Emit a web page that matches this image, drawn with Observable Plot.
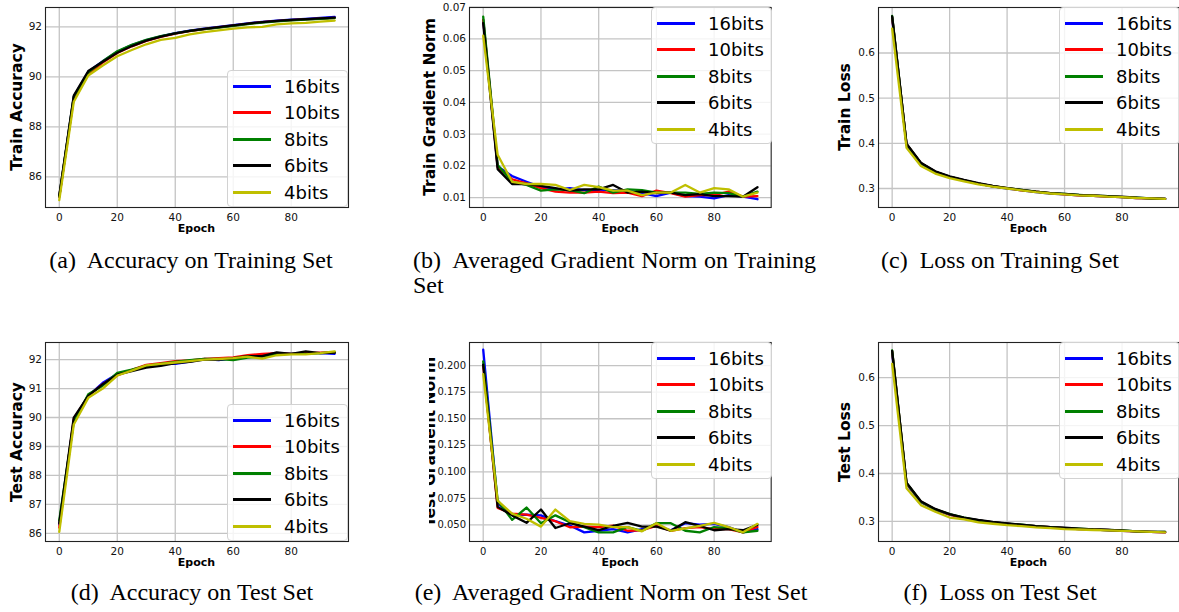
<!DOCTYPE html>
<html><head><meta charset="utf-8">
<script src="https://cdn.jsdelivr.net/npm/d3@7"></script>
<script src="https://cdn.jsdelivr.net/npm/@observablehq/plot@0.6"></script>
<style>
body{margin:0;background:#fff;}
#root{position:relative;width:1179px;height:612px;overflow:hidden;background:#fff;}
.pnl{position:absolute;}
.cap{position:absolute;font-family:"Liberation Serif","Times New Roman",serif;font-size:24px;line-height:1;color:#000;white-space:nowrap;}
.ylab{position:absolute;font-family:"DejaVu Sans";font-weight:bold;font-size:15.5px;line-height:1;white-space:nowrap;transform:translate(-50%,-50%) rotate(-90deg);color:#000;}
.xlab{position:absolute;font-family:"DejaVu Sans";font-weight:bold;font-size:11px;line-height:1;white-space:nowrap;transform:translate(-50%,-50%);color:#000;}
.legend{position:absolute;background:rgba(255,255,255,0.82);border:1px solid #d2d2d2;border-radius:4px;box-sizing:border-box;}
.lrow{position:absolute;left:0;height:24px;display:flex;align-items:center;font-family:"DejaVu Sans";font-size:18px;color:#000;white-space:nowrap;}
.lsw{position:absolute;height:3px;}
</style>
</head><body><div id="root"></div>
<script>
const epochs = [0,5,10,15,20,25,30,35,40,45,50,55,60,65,70,75,80,85,90,95];
const series = ["16bits","10bits","8bits","6bits","4bits"];
const colors = ["#0000ff","#ff0000","#008000","#000000","#bfbf00"];
const xTicks = [0,20,40,60,80];

// (a) Train Accuracy — rows: 16bits, 10bits, 8bits, 6bits, 4bits
const trainAccuracy = [
  [85.2,89.2,90.2,90.62,91.0,91.27,91.47,91.62,91.75,91.85,91.93,92.0,92.07,92.14,92.2,92.25,92.29,92.32,92.36,92.4],
  [85.2,89.15,90.1,90.57,90.95,91.22,91.44,91.6,91.73,91.83,91.91,91.98,92.05,92.12,92.19,92.23,92.27,92.3,92.33,92.36],
  [85.22,89.2,90.18,90.62,91.02,91.28,91.48,91.63,91.74,91.84,91.91,91.97,92.04,92.11,92.17,92.22,92.26,92.29,92.32,92.35],
  [85.25,89.25,90.23,90.6,90.96,91.23,91.45,91.61,91.74,91.84,91.92,91.99,92.06,92.13,92.19,92.24,92.28,92.31,92.34,92.37],
  [85.07,89.0,90.05,90.45,90.82,91.07,91.3,91.48,91.56,91.7,91.79,91.86,91.93,91.98,92.0,92.1,92.14,92.16,92.21,92.25]
];
// (b) Train Gradient Norm
const trainGradNorm = [
  [0.066,0.0198,0.0168,0.015,0.0133,0.0126,0.013,0.0124,0.0124,0.0124,0.0122,0.0114,0.0105,0.0116,0.0105,0.0103,0.0098,0.0108,0.0103,0.0095],
  [0.066,0.0196,0.0158,0.0145,0.013,0.0119,0.0116,0.0116,0.0119,0.0114,0.0116,0.0105,0.0122,0.0114,0.0103,0.0108,0.0108,0.0119,0.0103,0.0105],
  [0.067,0.0203,0.015,0.014,0.0122,0.0126,0.0124,0.0114,0.0135,0.0116,0.0126,0.0124,0.0116,0.0116,0.0116,0.0112,0.0116,0.0114,0.0103,0.0119],
  [0.065,0.019,0.0143,0.0143,0.0137,0.013,0.0122,0.0126,0.0126,0.014,0.0116,0.0119,0.0114,0.0116,0.0108,0.0111,0.0105,0.0105,0.0103,0.0133],
  [0.061,0.0235,0.015,0.0143,0.0143,0.014,0.0124,0.014,0.0133,0.0122,0.0122,0.0108,0.0116,0.0116,0.014,0.0116,0.013,0.0126,0.0103,0.0116]
];
// (c) Train Loss
const trainLoss = [
  [0.678,0.397,0.356,0.337,0.326,0.318,0.311,0.305,0.300,0.296,0.292,0.289,0.287,0.285,0.284,0.282,0.281,0.279,0.278,0.277],
  [0.679,0.398,0.356,0.337,0.326,0.318,0.311,0.305,0.301,0.296,0.293,0.290,0.287,0.285,0.284,0.282,0.281,0.279,0.278,0.277],
  [0.682,0.398,0.356,0.337,0.326,0.318,0.311,0.305,0.301,0.297,0.293,0.290,0.288,0.286,0.284,0.283,0.281,0.280,0.278,0.277],
  [0.681,0.399,0.357,0.338,0.327,0.319,0.312,0.306,0.301,0.297,0.293,0.290,0.288,0.286,0.285,0.283,0.282,0.280,0.278,0.277],
  [0.654,0.390,0.350,0.333,0.323,0.316,0.309,0.304,0.300,0.296,0.292,0.289,0.287,0.285,0.284,0.282,0.281,0.279,0.278,0.277]
];
// (d) Test Accuracy
const testAccuracy = [
  [86.3,89.9,90.75,91.2,91.5,91.62,91.8,91.85,91.85,91.93,92.02,91.98,92.05,92.12,92.15,92.22,92.2,92.22,92.22,92.2],
  [86.2,89.95,90.75,91.15,91.45,91.65,91.82,91.88,91.95,91.97,92.02,92.05,92.08,92.15,92.2,92.22,92.2,92.22,92.24,92.25],
  [86.45,89.85,90.8,91.1,91.54,91.65,91.78,91.85,91.92,91.98,92.02,92.02,91.98,92.07,92.1,92.18,92.2,92.2,92.22,92.25],
  [86.35,90.0,90.75,91.15,91.48,91.6,91.72,91.78,91.88,91.92,92.0,92.0,92.05,92.12,92.12,92.25,92.2,92.28,92.22,92.24],
  [86.05,89.76,90.68,91.0,91.45,91.62,91.8,91.85,91.9,91.95,92.0,92.02,92.05,92.1,92.03,92.15,92.18,92.18,92.22,92.28]
];
// (e) Test Gradient Norm
const testGradNorm = [
  [0.215,0.070,0.0596,0.0596,0.059,0.0535,0.0494,0.043,0.0445,0.046,0.043,0.046,0.049,0.045,0.0516,0.0503,0.051,0.048,0.043,0.046],
  [0.200,0.066,0.0606,0.0596,0.0567,0.0535,0.0478,0.0484,0.048,0.0494,0.0445,0.045,0.049,0.0445,0.047,0.048,0.046,0.046,0.043,0.048],
  [0.204,0.073,0.0548,0.0664,0.0516,0.059,0.0526,0.0478,0.043,0.043,0.048,0.0445,0.0516,0.0516,0.0445,0.043,0.048,0.047,0.043,0.0445],
  [0.201,0.067,0.059,0.052,0.0645,0.0471,0.0516,0.0484,0.0452,0.049,0.052,0.0484,0.0484,0.0445,0.0526,0.049,0.045,0.046,0.045,0.050],
  [0.192,0.0728,0.0606,0.0558,0.0484,0.0645,0.0535,0.051,0.0503,0.048,0.048,0.044,0.0516,0.0445,0.0468,0.049,0.052,0.048,0.043,0.051]
];
// (f) Test Loss
const testLoss = [
  [0.652,0.378,0.340,0.324,0.314,0.307,0.302,0.298,0.295,0.292,0.290,0.288,0.286,0.284,0.283,0.282,0.280,0.279,0.278,0.277],
  [0.655,0.379,0.341,0.325,0.314,0.307,0.302,0.298,0.295,0.292,0.290,0.288,0.286,0.284,0.283,0.282,0.280,0.279,0.278,0.277],
  [0.657,0.380,0.341,0.325,0.315,0.308,0.302,0.298,0.295,0.293,0.290,0.288,0.286,0.285,0.283,0.282,0.281,0.279,0.278,0.278],
  [0.656,0.381,0.342,0.326,0.315,0.308,0.303,0.299,0.296,0.293,0.290,0.288,0.287,0.285,0.283,0.282,0.281,0.279,0.278,0.278],
  [0.629,0.369,0.334,0.320,0.308,0.304,0.298,0.295,0.292,0.290,0.2875,0.286,0.284,0.283,0.282,0.281,0.280,0.279,0.278,0.277]
];

const yLabels = ["Train Accuracy","Train Gradient Norm","Train Loss","Test Accuracy","Test Gradient Norm","Test Loss"];
const xLabel = "Epoch";
const captions = [
  ["(a)","Accuracy on Training Set"],
  ["(b)","Averaged Gradient Norm on Training","Set"],
  ["(c)","Loss on Training Set"],
  ["(d)","Accuracy on Test Set"],
  ["(e)","Averaged Gradient Norm on Test Set"],
  ["(f)","Loss on Test Set"]
];
const yTickSets = [
  [86,88,90,92],
  [0.01,0.02,0.03,0.04,0.05,0.06,0.07],
  [0.3,0.4,0.5,0.6],
  [86,87,88,89,90,91,92],
  [0.05,0.075,0.1,0.125,0.15,0.175,0.2],
  [0.3,0.4,0.5,0.6]
];

const root = document.getElementById("root");

function rows(values){
  return series.flatMap((s,i)=>epochs.map((e,j)=>({epoch:e, value:values[i][j], series:s})));
}

function el(cls, parent, css){
  const d = document.createElement("div");
  if (cls) d.className = cls;
  Object.assign(d.style, css||{});
  (parent||root).appendChild(d);
  return d;
}

const panels = [
  {values:trainAccuracy, L:45, T:7, R:348, B:207, yDomain:[84.772,92.772], fmt:"d", ylx:17.5, legend:[227,70]},
  {values:trainGradNorm, L:469.3, T:7, R:771, B:207, yDomain:[0.0069,0.0699], fmt:".2f", ylx:431, legend:[651,7]},
  {values:trainLoss, L:878.3, T:7, R:1178.6, B:207, yDomain:[0.258,0.7007], fmt:".1f", ylx:846, legend:[1059,7]},
  {values:testAccuracy, L:45, T:342.3, R:348, B:541.3, yDomain:[85.72,92.59], fmt:"d", ylx:17.5, legend:[227,404]},
  {values:testGradNorm, L:469.3, T:342.3, R:771, B:541.3, yDomain:[0.0344,0.2218], fmt:".3f", ylx:430.5, legend:[651,342], clip:428.5, tickFont:"10px"},
  {values:testLoss, L:878.3, T:342.3, R:1178.6, B:541.3, yDomain:[0.258,0.6735], fmt:".1f", ylx:846, legend:[1059,342]}
];

panels.forEach((p,k)=>{
  const ml=42, mr=1, mt=1, mb=24;
  const w = p.R-p.L, h = p.B-p.T;
  const W = w+ml+mr, H = h+mt+mb;
  const svg = Plot.plot({
    width: W, height: H,
    marginLeft: ml, marginRight: mr, marginTop: mt, marginBottom: mb,
    style: {fontFamily:"DejaVu Sans", fontSize: p.tickFont||"10.5px", color:"#111", background:"transparent", overflow:"visible"},
    x: {domain:[-4.75,99.75], ticks:xTicks, tickFormat:"d", tickSize:0, tickPadding:6, label:null},
    y: {domain:p.yDomain, ticks:yTickSets[k], tickFormat:p.fmt, tickSize:0, tickPadding:3.5, label:null},
    color: {domain:series, range:colors},
    marks: [
      Plot.ruleX(xTicks, {stroke:"#c4c4c4", strokeWidth:1.3}),
      Plot.ruleY(yTickSets[k], {stroke:"#c4c4c4", strokeWidth:1.3}),
      Plot.line(rows(p.values), {x:"epoch", y:"value", z:"series", stroke:"series", strokeWidth:2.3}),
      Plot.frame({stroke:"#222", strokeWidth:1.1})
    ]
  });
  const box = el("pnl", root, {left:(p.L-ml)+"px", top:(p.T-mt)+"px", width:W+"px", height:H+"px"});
  box.appendChild(svg);

  // y label
  const cy = (p.T+p.B)/2;
  if (p.clip){
    const c = el("", root, {position:"absolute", left:p.clip+"px", top:(p.T-10)+"px", width:"30px", height:(h+20)+"px", overflow:"hidden"});
    const t = el("ylab", c, {left:(p.ylx-p.clip)+"px", top:(cy-(p.T-10))+"px"});
    t.textContent = yLabels[k];
  } else {
    const t = el("ylab", root, {left:p.ylx+"px", top:cy+"px"});
    t.textContent = yLabels[k];
  }
  // x label
  const xl = el("xlab", root, {left:((p.L+p.R)/2)+"px", top:(p.B+21)+"px"});
  xl.textContent = xLabel;

  // legend
  const [lx, ly] = p.legend;
  const lg = el("legend", root, {left:lx+"px", top:ly+"px", width:"121px", height:"137px"});
  series.forEach((s,i)=>{
    const yc = 15.5 + i*26.4;
    el("lsw", lg, {left:"5px", width:"38px", top:Math.round(yc-1.5)+"px", background:colors[i]});
    const r = el("lrow", lg, {left:"56px", top:(yc-12)+"px"});
    r.textContent = s;
  });
});

// captions
const capPos = [
  {cx:191, base:268},
  {left:413, base:268},
  {cx:1000, base:268},
  {cx:192, base:600},
  {cx:611, base:600},
  {cx:1000, base:600}
];
captions.forEach((c,k)=>{
  const p = capPos[k];
  const top = p.base - 20.1;
  const d = el("cap", root, {top:top+"px"});
  const lab = document.createElement("span");
  lab.textContent = c[0];
  lab.style.marginRight = "6px";
  d.appendChild(lab);
  d.appendChild(document.createTextNode(" " + c[1]));
  if (p.left !== undefined){
    d.style.left = p.left+"px";
    d.style.width = "403px";
    d.style.textAlign = "justify";
    d.style.textAlignLast = "justify";
    const d2 = el("cap", root, {top:(top+25)+"px", left:p.left+"px"});
    d2.textContent = c[2];
  } else {
    d.style.left = p.cx+"px";
    d.style.transform = "translateX(-50%)";
  }
});
</script></body></html>
